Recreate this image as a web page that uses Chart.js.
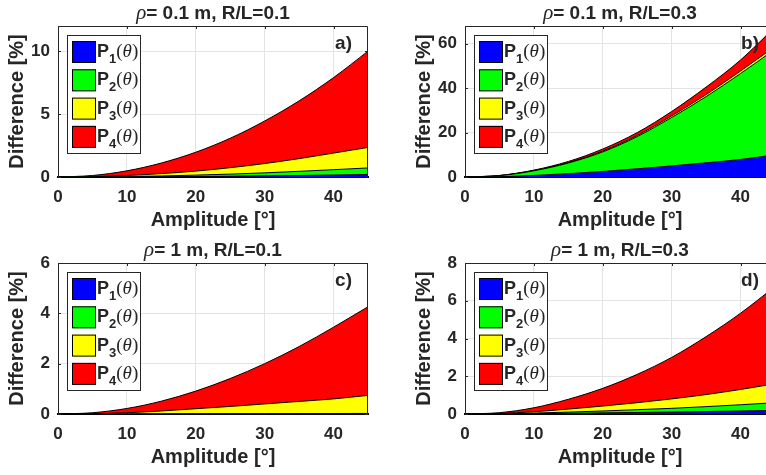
<!DOCTYPE html>
<html>
<head>
<meta charset="utf-8">
<script src="https://cdn.jsdelivr.net/npm/chart.js@4.4.1/dist/chart.umd.min.js"></script>
<style>
  html, body { margin: 0; padding: 0; background: #fff; }
  #wrap { position: relative; width: 766px; height: 475px; overflow: hidden; }
  #wrap canvas { position: absolute; }
</style>
</head>
<body>
<div id="wrap">
  <canvas id="chart-a" width="383" height="237" style="left:0;top:0"></canvas>
  <canvas id="chart-b" width="410" height="237" style="left:383px;top:0"></canvas>
  <canvas id="chart-c" width="383" height="237" style="left:0;top:237px"></canvas>
  <canvas id="chart-d" width="410" height="237" style="left:383px;top:237px"></canvas>
</div>
<script>
// amplitude in degrees (shared x values)
const amplitude = [0, 5, 10, 15, 20, 25, 30, 35, 40, 45];

// series names and colours
const seriesNames = ["P1", "P2", "P3", "P4"];
const seriesColors = ["#0000ff", "#00ff00", "#ffff00", "#ff0000"];

// panel a) rho = 0.1 m, R/L = 0.1
const aP1 = [0, 0.003, 0.01, 0.022, 0.04, 0.062, 0.09, 0.12, 0.16, 0.2];
const aP2 = [0, 0.007, 0.03, 0.058, 0.11, 0.168, 0.24, 0.33, 0.42, 0.52];
const aP3 = [0, 0.02, 0.08, 0.19, 0.32, 0.51, 0.74, 1.01, 1.32, 1.63];
const aP4 = [0, 0.09, 0.37, 0.84, 1.5, 2.34, 3.38, 4.59, 6.0, 7.65];

// panel b) rho = 0.1 m, R/L = 0.3
const bP1 = [0, 0.15, 0.7, 1.5, 2.5, 3.7, 5.0, 6.4, 7.9, 10.0];
const bP2 = [0, 0.45, 2.1, 4.8, 8.8, 14.5, 21.8, 29.8, 38.7, 47.5];
const bP3 = [0, 0.02, 0.1, 0.2, 0.35, 0.5, 0.7, 0.9, 1.1, 1.3];
const bP4 = [0, 0.08, 0.2, 0.5, 0.95, 1.3, 2.0, 3.4, 5.0, 8.7];

// panel c) rho = 1 m, R/L = 0.1
const cP1 = [0, 0, 0.001, 0.001, 0.002, 0.002, 0.003, 0.003, 0.004, 0.005];
const cP2 = [0, 0.001, 0.002, 0.004, 0.006, 0.008, 0.01, 0.012, 0.015, 0.018];
const cP3 = [0, 0.009, 0.047, 0.115, 0.202, 0.29, 0.387, 0.485, 0.581, 0.717];
const cP4 = [0, 0.04, 0.17, 0.39, 0.7, 1.11, 1.6, 2.18, 2.85, 3.52];

// panel d) rho = 1 m, R/L = 0.3
const dP1 = [0, 0.005, 0.02, 0.04, 0.06, 0.08, 0.1, 0.13, 0.16, 0.19];
const dP2 = [0, 0.005, 0.03, 0.06, 0.1, 0.15, 0.2, 0.26, 0.33, 0.41];
const dP3 = [0, 0.02, 0.07, 0.16, 0.26, 0.37, 0.5, 0.64, 0.81, 1.0];
const dP4 = [0, 0.04, 0.21, 0.52, 0.94, 1.5, 2.2, 3.07, 4.04, 5.15];

const panelTitles = ["ρ= 0.1 m, R/L=0.1", "ρ= 0.1 m, R/L=0.3", "ρ= 1 m, R/L=0.1", "ρ= 1 m, R/L=0.3"];
const panelTags = ["a)", "b)", "c)", "d)"];
const yMax = [12, 68, 6, 8];
const yStep = [5, 20, 2, 2];
const xMax = 45;
const xStep = 10;

const TEXT = "#262626";
const SANS = "'Liberation Sans', Arial, sans-serif";
const SERIF = "'Liberation Serif', 'DejaVu Serif', serif";

// titles, panel tag, legend, box and inner ticks
const panelDecor = {
  id: "panelDecor",
  beforeDatasetsDraw(chart) {
    const { ctx, chartArea: a, scales } = chart;
    ctx.save();
    ctx.strokeStyle = TEXT;
    ctx.lineWidth = 1;
    ctx.beginPath();
    scales.x.ticks.forEach(t => {
      const px = Math.round(scales.x.getPixelForValue(t.value)) + 0.5;
      ctx.moveTo(px, a.top); ctx.lineTo(px, a.top + 3);
      ctx.moveTo(px, a.bottom); ctx.lineTo(px, a.bottom - 3);
    });
    scales.y.ticks.forEach(t => {
      const py = Math.round(scales.y.getPixelForValue(t.value)) + 0.5;
      ctx.moveTo(a.left, py); ctx.lineTo(a.left + 3, py);
      ctx.moveTo(a.right, py); ctx.lineTo(a.right - 3, py);
    });
    ctx.stroke();
    ctx.restore();
  },
  afterDatasetsDraw(chart) {
    const { ctx, chartArea: a } = chart;
    ctx.save();
    ctx.strokeStyle = TEXT;
    ctx.lineWidth = 1;
    ctx.beginPath();
    ctx.moveTo(a.left + 0.5, a.bottom);
    ctx.lineTo(a.left + 0.5, a.top + 0.5);
    ctx.lineTo(a.right - 0.5, a.top + 0.5);
    ctx.lineTo(a.right - 0.5, a.bottom);
    ctx.stroke();
    ctx.restore();
  },
  afterDraw(chart, args, opts) {
    const { ctx, chartArea: a } = chart;
    ctx.save();
    ctx.fillStyle = TEXT;
    ctx.textBaseline = "alphabetic";

    // title: italic rho + bold rest
    const rho = opts.title.charAt(0);
    const rest = opts.title.slice(1);
    ctx.font = "italic 21px " + SERIF;
    const rhoW = ctx.measureText(rho).width;
    ctx.font = "bold 19px " + SANS;
    const restW = ctx.measureText(rest).width;
    let x = (a.left + a.right) / 2 - (rhoW + restW) / 2;
    ctx.font = "italic 21px " + SERIF;
    ctx.fillText(rho, x, 19);
    ctx.font = "bold 19px " + SANS;
    ctx.fillText(rest, x + rhoW, 19);

    // panel tag
    ctx.font = "bold 19px " + SANS;
    ctx.textAlign = "right";
    ctx.fillText(opts.tag, a.right - 16, a.top + 23);
    ctx.textAlign = "left";

    // legend box
    const bx = a.left + 9, by = a.top + 9;
    ctx.fillStyle = "#fff";
    ctx.fillRect(bx, by, 73, 118);
    ctx.strokeStyle = TEXT;
    ctx.lineWidth = 1;
    ctx.strokeRect(bx + 0.5, by + 0.5, 73, 118);

    chart.data.datasets.forEach((ds, i) => {
      const sy = a.top + 15 + i * 28.3;
      const sx = a.left + 14;
      ctx.fillStyle = ds.backgroundColor;
      ctx.fillRect(sx, sy, 24, 22);
      ctx.strokeStyle = "#000";
      ctx.strokeRect(sx + 0.5, sy + 0.5, 23, 21);

      const base = sy + 16;
      let tx = sx + 25;
      ctx.fillStyle = TEXT;
      ctx.font = "bold 18px " + SANS;
      ctx.fillText(ds.label.charAt(0), tx, base);
      tx += ctx.measureText(ds.label.charAt(0)).width;
      ctx.font = "bold 13px " + SANS;
      ctx.fillText(ds.label.slice(1), tx, base + 6);
      tx += ctx.measureText(ds.label.slice(1)).width;
      ctx.font = "19px " + SERIF;
      ctx.fillText("(", tx, base);
      tx += ctx.measureText("(").width;
      ctx.font = "italic 19px " + SERIF;
      ctx.fillText("θ", tx, base);
      tx += ctx.measureText("θ").width;
      ctx.font = "19px " + SERIF;
      ctx.fillText(")", tx, base);
    });
    ctx.restore();
  }
};

function makePanel(id, idx, series, padLeft, padRight) {
  const ctx = document.getElementById(id).getContext("2d");
  return new Chart(ctx, {
    type: "line",
    data: {
      datasets: series.map((vals, i) => ({
        label: seriesNames[i],
        data: amplitude.map((a, k) => ({ x: a, y: vals[k] })),
        backgroundColor: seriesColors[i],
        borderColor: "#000",
        borderWidth: 1,
        pointRadius: 0,
        fill: i === 0 ? "origin" : "-1",
        cubicInterpolationMode: "monotone"
      }))
    },
    options: {
      responsive: false,
      animation: false,
      layout: { padding: { left: padLeft, right: padRight, top: 26, bottom: 0 } },
      plugins: {
        legend: { display: false },
        tooltip: { enabled: false },
        panelDecor: { title: panelTitles[idx], tag: panelTags[idx] }
      },
      scales: {
        x: {
          type: "linear",
          min: 0,
          max: xMax,
          ticks: { stepSize: xStep, includeBounds: false, padding: 10, color: TEXT, font: { family: SANS, size: 17, weight: "bold" } },
          grid: { color: "#e3e3e3", drawTicks: false },
          border: { color: "#000", width: 2 },
          title: { display: true, text: "Amplitude [°]", color: TEXT, padding: { top: 0, bottom: 5 }, font: { family: SANS, size: 20, weight: "bold" } },
          afterFit: s => { s.height = 60; }
        },
        y: {
          stacked: true,
          min: 0,
          max: yMax[idx],
          ticks: { stepSize: yStep[idx], includeBounds: false, padding: 8, color: TEXT, font: { family: SANS, size: 17, weight: "bold" } },
          grid: { color: "#e3e3e3", drawTicks: false },
          border: { color: TEXT, width: 1 },
          title: { display: true, text: "Difference [%]", color: TEXT, padding: { top: 5, bottom: 0 }, font: { family: SANS, size: 20, weight: "bold" } },
          afterFit: s => { s.width = 58; }
        }
      }
    },
    plugins: [panelDecor]
  });
}

window.addEventListener("DOMContentLoaded", () => {
  makePanel("chart-a", 0, [aP1, aP2, aP3, aP4], 0, 15);
  makePanel("chart-b", 1, [bP1, bP2, bP3, bP4], 24, 18);
  makePanel("chart-c", 2, [cP1, cP2, cP3, cP4], 0, 15);
  makePanel("chart-d", 3, [dP1, dP2, dP3, dP4], 24, 18);
});
</script>
</body>
</html>
